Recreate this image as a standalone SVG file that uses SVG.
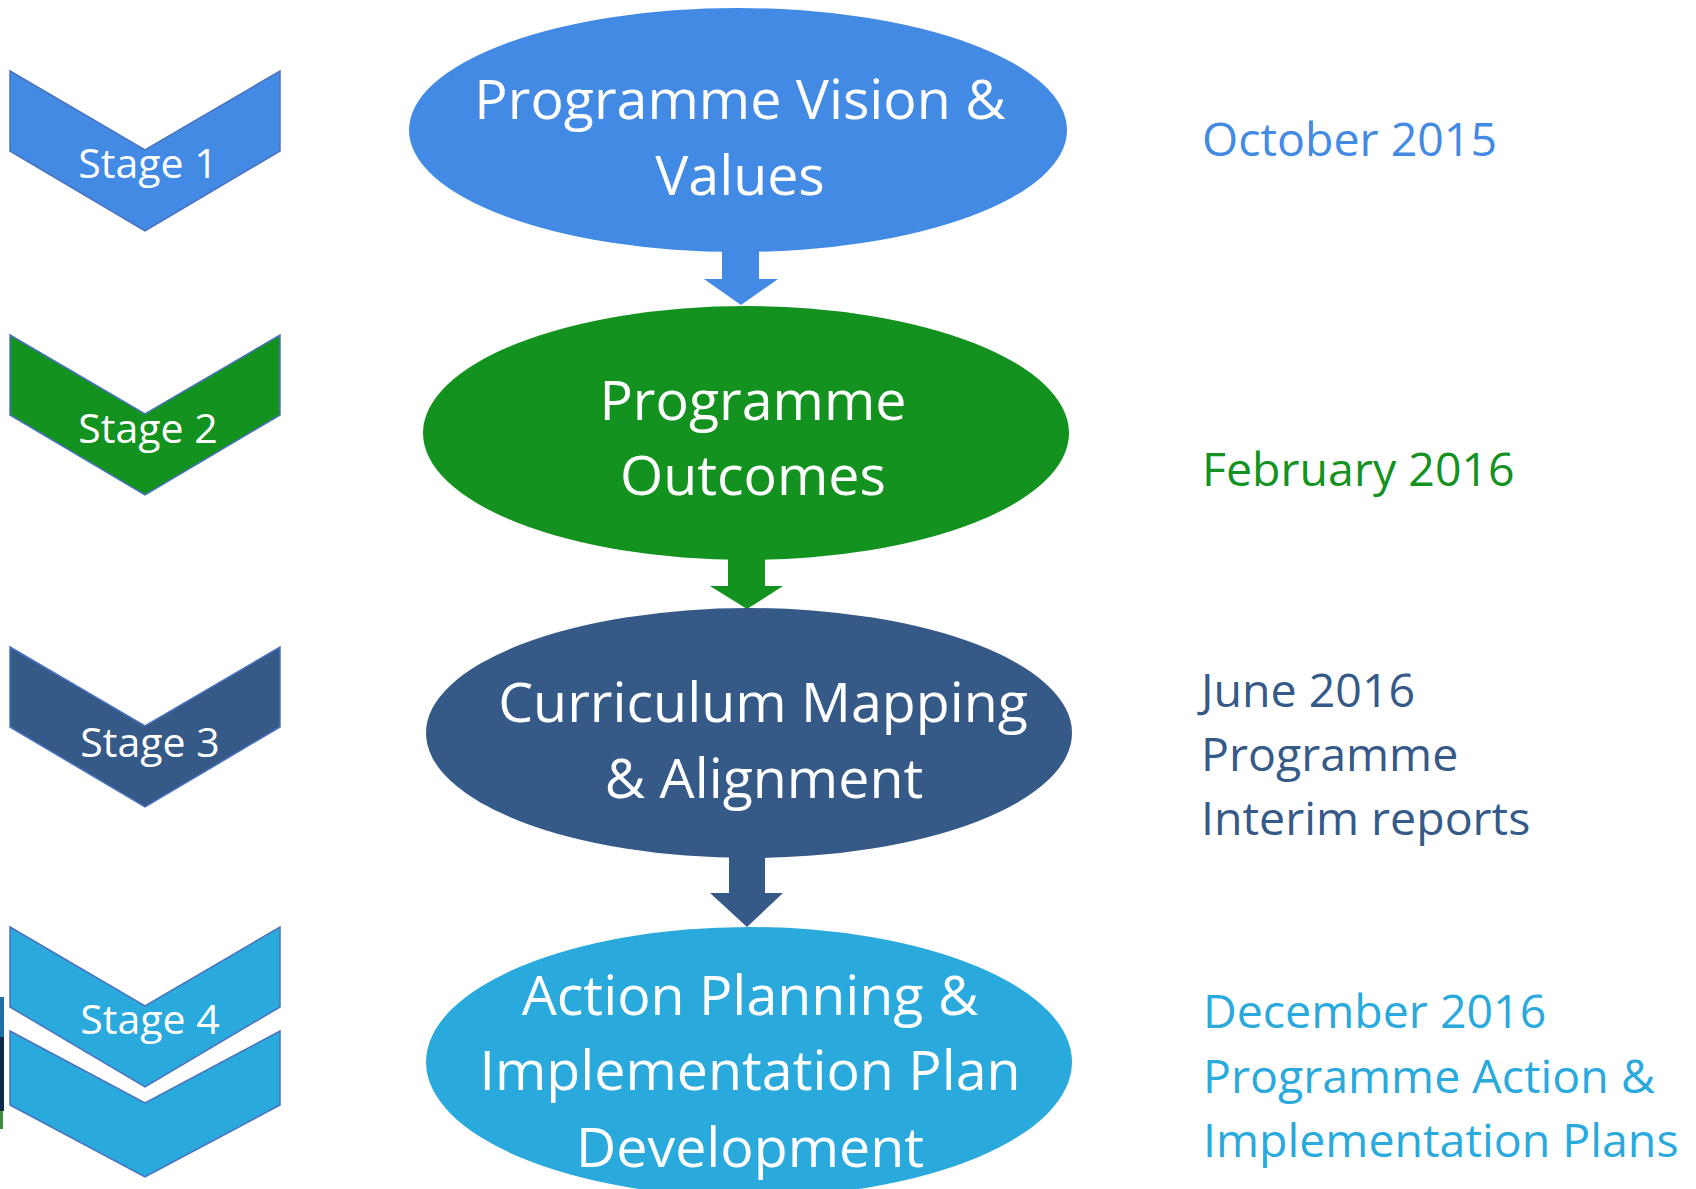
<svg xmlns="http://www.w3.org/2000/svg" width="1696" height="1189" viewBox="0 0 1696 1189">
<style>
text{font-family:"Open Sans","Noto Sans","DejaVu Sans",sans-serif}
.chev{stroke:#4a72c0;stroke-width:1.5;stroke-linejoin:miter}
.stg{fill:#fff;font-size:41px;text-anchor:middle}
.ell{fill:#fff;font-size:55.5px;text-anchor:middle}
.date{font-size:46.5px}
</style>
<rect width="1696" height="1189" fill="#fff"/>
<g id="edge-fragment">
<rect x="0" y="997" width="4" height="40" fill="#1d6fa6"/>
<rect x="0" y="1037" width="4" height="74" fill="#0e2a4a"/>
<rect x="0" y="1111" width="3" height="18" fill="#3d8f3a"/>
</g>
<g id="stage1"><polygon class="chev" fill="#428ae4" points="10,71 145,150 280,71 280,151 145,231 10,151"/><text class="stg" x="148" y="178">Stage 1</text></g>
<g id="stage2"><polygon class="chev" fill="#13921f" points="10,335 145,414 280,335 280,415 145,495 10,415"/><text class="stg" x="148" y="443">Stage 2</text></g>
<g id="stage3"><polygon class="chev" fill="#365a88" points="10,647 145,726 280,647 280,727 145,807 10,727"/><text class="stg" x="150" y="757">Stage 3</text></g>
<g id="stage4"><polygon class="chev" fill="#2aa9dc" points="10,1031 145,1103 280,1031 280,1105 145,1177 10,1105"/><polygon class="chev" fill="#2aa9dc" points="10,927 145,1006 280,927 280,1007 145,1087 10,1007"/><text class="stg" x="150" y="1034">Stage 4</text></g>
<g id="connectors">
<polygon fill="#428ae4" points="722,250 759,250 759,279 778,279 741,305 704,279 722,279"/>
<polygon fill="#13921f" points="728,559 765,559 765,586 783,586 747,609 710,586 728,586"/>
<polygon fill="#365a88" points="729,856 765,856 765,893 783,893 747,927 710,893 729,893"/>
</g>
<g id="node1"><ellipse cx="738" cy="130" rx="329" ry="122" fill="#428ae4"/><text class="ell" x="740" y="119">Programme Vision &amp;</text><text class="ell" x="740" y="195">Values</text></g>
<g id="node2"><ellipse cx="746" cy="433" rx="323" ry="127" fill="#13921f"/><text class="ell" x="753" y="420">Programme</text><text class="ell" x="753" y="495">Outcomes</text></g>
<g id="node3"><ellipse cx="749" cy="733" rx="323" ry="125" fill="#365a88"/><text class="ell" x="763" y="722">Curriculum Mapping</text><text class="ell" x="764" y="798">&amp; Alignment</text></g>
<g id="node4"><ellipse cx="749" cy="1062" rx="323" ry="135" fill="#2aa9dc"/><text class="ell" x="750" y="1015">Action Planning &amp;</text><text class="ell" x="750" y="1090">Implementation Plan</text><text class="ell" x="750" y="1167">Development</text></g>
<g id="dates">
<text class="date" x="1202" y="156" fill="#428ae4">October 2015</text>
<text class="date" x="1202" y="486" fill="#13921f">February 2016</text>
<text class="date" x="1201" y="707" fill="#365a88">June 2016</text>
<text class="date" x="1201" y="771" fill="#365a88">Programme</text>
<text class="date" x="1201" y="835" fill="#365a88">Interim reports</text>
<text class="date" x="1203" y="1028" fill="#2aa9dc">December 2016</text>
<text class="date" x="1203" y="1093" fill="#2aa9dc">Programme Action &amp;</text>
<text class="date" x="1203" y="1157" fill="#2aa9dc">Implementation Plans</text>
</g>
</svg>
